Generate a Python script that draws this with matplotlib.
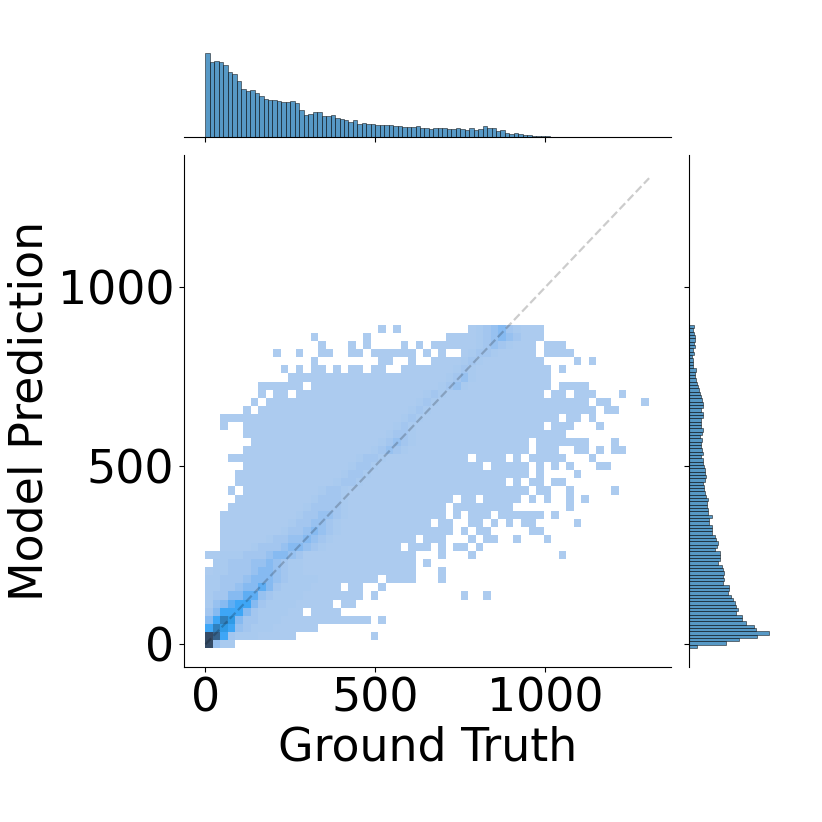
import numpy as np
import matplotlib
matplotlib.use("Agg")
import matplotlib.pyplot as plt
from matplotlib.colors import ListedColormap

# ---------- data ----------
x_label = "Ground Truth"
y_label = "Model Prediction"
ticks = [0, 500, 1000]

# top marginal: bar heights, 13.15 units wide, from x = 0
top_counts = [252, 225, 227, 225, 217, 195, 189, 168, 145, 139, 140, 132, 123, 116, 111, 111,
              110, 105, 105, 108, 102, 81, 67, 71, 75, 75, 63, 65, 66, 59, 54, 52,
              46, 51, 39, 42, 40, 40, 38, 38, 38, 36, 34, 33, 31, 30, 30, 33,
              27, 27, 24, 27, 27, 28, 26, 26, 29, 24, 21, 27, 23, 25, 33, 28,
              27, 19, 21, 12, 10, 12, 10, 8, 6, 5, 5, 3, 4, 2, 2, 2,
              1, 1, 1, 0, 1, 1, 0, 0, 0, 0, 0, 0, 0, 0, 0, 0, 0, 0, 0]

# right marginal: bar lengths, from bottom upward
right_counts = [26, 112, 150, 204, 240, 201, 195, 171, 159, 159, 142, 147, 141, 138, 132, 126,
                118, 122, 121, 104, 105, 102, 107, 104, 99, 87, 93, 93, 93, 78, 84, 89,
                81, 78, 69, 71, 69, 62, 62, 69, 58, 57, 56, 54,
                57, 53, 48, 47, 46, 44, 50, 51, 50, 50, 45, 44, 43, 38, 42, 40,
                36, 38, 39, 35, 39, 42, 36, 38, 37, 44, 42, 38, 44, 42, 39, 38,
                33, 32, 27, 24, 22, 20, 20, 21, 14, 12, 14, 11, 15, 14, 18, 16,
                18, 20, 15, 14, 15]

# occupied 2-D bins: row -> (first column, last column) runs
occupied = {
    0: [(0, 3)], 1: [(0, 11), (22, 22)], 2: [(0, 14)], 3: [(0, 21), (23, 23)],
    4: [(0, 12), (14, 17)], 5: [(0, 16), (18, 19)], 6: [(0, 20), (22, 22), (34, 34), (37, 37)],
    7: [(0, 17), (19, 20), (23, 23)], 8: [(0, 22), (24, 27), (31, 31)], 9: [(0, 27), (31, 31)],
    10: [(1, 27), (29, 29)], 11: [(0, 27), (31, 31), (35, 35), (47, 47)],
    12: [(2, 25), (27, 29), (31, 31), (33, 34), (36, 36)],
    13: [(2, 27), (29, 31), (35, 35), (37, 38), (41, 41), (45, 45)],
    14: [(2, 32), (34, 34), (36, 37), (43, 44)],
    15: [(2, 29), (31, 32), (35, 36), (38, 38), (40, 40), (42, 43), (49, 49)],
    16: [(2, 31), (33, 33), (35, 37), (39, 44), (46, 46)],
    17: [(3, 31), (33, 40), (48, 48)],
    18: [(4, 32), (34, 35), (37, 41), (43, 43), (45, 45), (48, 48), (50, 50)],
    19: [(3, 3), (5, 42), (44, 45), (48, 48), (54, 54)],
    20: [(4, 39), (41, 41), (43, 44), (46, 47)],
    21: [(4, 42), (44, 44), (49, 49)],
    22: [(5, 36), (38, 42), (44, 44), (46, 46), (48, 48), (52, 53)],
    23: [(3, 34), (36, 39), (41, 41), (43, 47), (51, 51)],
    24: [(5, 42), (44, 46), (49, 50), (52, 52), (54, 55)],
    25: [(6, 42), (44, 50), (54, 54)],
    26: [(5, 47)],
    27: [(2, 2), (5, 44), (46, 48), (52, 52)],
    28: [(2, 46), (48, 49), (51, 51)],
    29: [(5, 5), (7, 51), (53, 54)],
    30: [(6, 6), (8, 50), (52, 53), (58, 58)],
    31: [(7, 7), (9, 10), (12, 44), (46, 47), (49, 51), (55, 55)],
    32: [(7, 12), (14, 45), (47, 50)],
    33: [(11, 45)],
    34: [(10, 10), (12, 12), (14, 15), (17, 17), (19, 20), (22, 23), (26, 45), (47, 47)],
    35: [(14, 14), (23, 24), (27, 27), (30, 44), (49, 49), (51, 51)],
    36: [(9, 9), (12, 12), (15, 16), (19, 20), (22, 27), (29, 29), (31, 31), (34, 43), (45, 48)],
    37: [(15, 15), (19, 19), (21, 21), (26, 26), (28, 28), (30, 43), (45, 47)],
    38: [(14, 14), (21, 21), (32, 44)],
    39: [(23, 23), (25, 25), (35, 44)],
}

# density levels near the diagonal: row -> (first column, levels), base level is 1
dense = {
    0: (0, "b422"), 1: (0, "ba73222"), 2: (0, "798743222"), 3: (0, "5798533222"),
    4: (0, "35777532222"), 5: (0, "245677532222"), 6: (0, "2335566432222"),
    7: (0, "22334556532222"), 8: (0, "223334555432222"), 9: (0, "1223334554322"),
    10: (1, "223334454322"), 11: (2, "22233345543"), 12: (6, "2333455432"),
    13: (8, "233445432"), 14: (10, "23345432"), 15: (11, "2334432"),
    16: (12, "2334432"), 17: (13, "233332"), 18: (14, "23332"),
    19: (15, "2332"), 20: (17, "2332"), 21: (18, "2332"),
    22: (19, "2332"), 23: (20, "2332"), 24: (22, "23432"), 25: (23, "23432"),
    26: (24, "2332"), 27: (25, "232"), 28: (26, "232"), 29: (27, "232"),
    30: (28, "232"), 31: (29, "232"), 32: (31, "2342"), 33: (32, "2342"),
    34: (33, "232"), 35: (34, "232"), 36: (35, "2332"), 37: (36, "23432"),
    38: (36, "234543"), 39: (36, "234532"),
}

level_colors = ["#accbef", "#a9caef", "#a3c6ef", "#97c1f0", "#86baf1", "#5eadf3",
                "#3ea6f6", "#2f9ae6", "#3080bd", "#36638c", "#344b66"]

# ---------- build grid ----------
n_rows, n_cols = 40, 59
levels = np.zeros((n_rows, n_cols))
for r, runs in occupied.items():
    for a, b in runs:
        levels[r, a:b + 1] = 1
for r, (start, digits) in dense.items():
    for k, ch in enumerate(digits):
        c = start + k
        if c < n_cols and levels[r, c] > 0:
            levels[r, c] = int(ch, 16) if ch in "ab" else int(ch)

x_edges = np.arange(n_cols + 1) * 22.1
y_edges = -10.4 + np.arange(n_rows + 1) * 22.61

# ---------- figure ----------
W = H = 822
fig = plt.figure(figsize=(W / 100, H / 100), dpi=100)


def box(l, t, r, b):
    return [l / W, 1 - b / H, (r - l) / W, (b - t) / H]


ax = fig.add_axes(box(184, 155, 671, 667))
ax_top = fig.add_axes(box(184, 48.6, 671, 137.3))
ax_right = fig.add_axes(box(688.7, 155, 772.7, 667))

cmap = ListedColormap(level_colors)
ax.pcolormesh(x_edges, y_edges, np.ma.masked_equal(levels, 0), cmap=cmap,
              vmin=0.5, vmax=11.5, antialiased=True, linewidth=0)
ax.plot([0, 1305], [0, 1305], color="black", alpha=0.2, ls="--", lw=1.6)

xlim = (-63.0, 1369.4)
ylim = (-63.5, 1369.8)
ax.set_xlim(xlim)
ax.set_ylim(ylim)
ax.set_xticks(ticks)
ax.set_yticks(ticks)
ax.tick_params(labelsize=33)
ax.set_xlabel(x_label, fontsize=33, labelpad=2.5)
ax.set_ylabel(y_label, fontsize=33, labelpad=4)
ax.spines[["top", "right"]].set_visible(False)

bar_kw = dict(color="#1f77b4", alpha=0.75, edgecolor="black", linewidth=0.45)
top_left = np.arange(len(top_counts)) * 13.15
ax_top.bar(top_left, top_counts, width=13.15, align="edge", **bar_kw)
ax_top.set_xlim(xlim)
ax_top.set_ylim(0, max(top_counts) / 0.95)
ax_top.set_xticks(ticks)
ax_top.tick_params(labelbottom=False, left=False, labelleft=False)
ax_top.spines[["top", "right", "left"]].set_visible(False)

step = (894 + 10.4) / len(right_counts)
right_bottom = -10.4 + np.arange(len(right_counts)) * step
ax_right.barh(right_bottom, right_counts, height=step, align="edge", **bar_kw)
ax_right.set_ylim(ylim)
ax_right.set_xlim(0, max(right_counts) / 0.95)
ax_right.set_yticks(ticks)
ax_right.tick_params(labelleft=False, bottom=False, labelbottom=False)
ax_right.spines[["top", "right", "bottom"]].set_visible(False)

fig.savefig("out.png", dpi=100)
